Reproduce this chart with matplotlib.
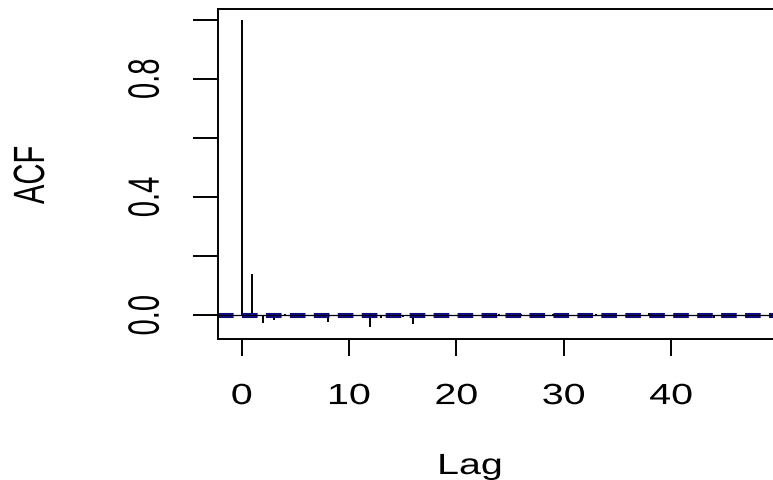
import numpy as np
import matplotlib
matplotlib.use("Agg")
import matplotlib.pyplot as plt
from matplotlib import patheffects
from matplotlib.transforms import Affine2D

# ACF values (lag 0 .. 55)
lags = list(range(56))
acf_vals = [1.0, 0.139, -0.026, -0.017, 0.003, -0.002, 0.002, -0.008,
            -0.022, 0.002, 0.005, -0.003, -0.039, -0.008, 0.002, -0.006,
            -0.028, 0.003, -0.002, 0.006, 0.002, -0.003, 0.001, -0.002,
            0.006, -0.003, 0.005, -0.002, 0.001, 0.004, 0.006, -0.002,
            0.002, 0.004, -0.003, 0.002, -0.002, 0.003, 0.007, -0.002,
            0.002, -0.003, 0.001, 0.003, -0.009, 0.002, 0.007, -0.002,
            0.003, 0.002, -0.002, 0.003, -0.001, 0.002, -0.003, 0.001]
ci = 0.006
x_ticks = [0, 10, 20, 30, 40]
y_ticks = [0.0, 0.2, 0.4, 0.6, 0.8, 1.0]
y_ticklabels = ["0.0", "", "0.4", "", "0.8", ""]


# the reference is stretched sideways, so widen the glyphs the same way
class Stretch(patheffects.AbstractPathEffect):
    def __init__(self, sx=1.6):
        super().__init__()
        self.sx = sx

    def draw_path(self, renderer, gc, tpath, affine, rgbFace=None):
        bb = tpath.get_extents(affine)
        cx = (bb.x0 + bb.x1) / 2
        aff = affine + Affine2D().translate(-cx, 0).scale(self.sx, 1).translate(cx, 0)
        renderer.draw_path(gc, tpath, aff, rgbFace)


plt.rcParams['font.family'] = ['Liberation Sans', 'DejaVu Sans']
fs = 21
W, H = 773, 481

fig = plt.figure(figsize=(W / 100, H / 100), dpi=100)
ax = fig.add_axes([218 / W, (H - 340) / H, (855 - 218) / W, (340 - 9.5) / H])

ax.vlines(lags, 0, acf_vals, color='black', linewidth=1.4)
ax.axhline(0, color='black', linewidth=0.9)
for c in (ci, -ci):
    ax.axhline(c, color='#0c0c7c', linewidth=1.5, dashes=(7.5, 4))

ax.set_xlim(-2.21, 57.15)
ax.set_ylim(-0.080, 1.038)
ax.set_xticks(x_ticks)
ax.set_yticks(y_ticks)
ax.set_yticklabels(y_ticklabels, rotation=90, va='center')
ax.tick_params(axis='x', length=12, width=1.4, pad=19, labelsize=fs)
ax.tick_params(axis='y', length=18, width=1.4, pad=24, labelsize=fs)
for s in ax.spines.values():
    s.set_linewidth(1.4)

sx_h = [Stretch(1.35)]
sx_v = [Stretch(1.5)]
for lbl in ax.get_xticklabels():
    lbl.set_path_effects(sx_h)
for lbl in ax.get_yticklabels():
    lbl.set_path_effects(sx_v)

fig.text(470 / W, (H - 475) / H, "Lag", ha='center', va='baseline',
         fontsize=fs, path_effects=sx_h)
fig.text(31 / W, (H - 176) / H, "ACF", ha='center', va='center',
         rotation=90, fontsize=fs, path_effects=sx_v)

fig.savefig("out.png", dpi=100)
